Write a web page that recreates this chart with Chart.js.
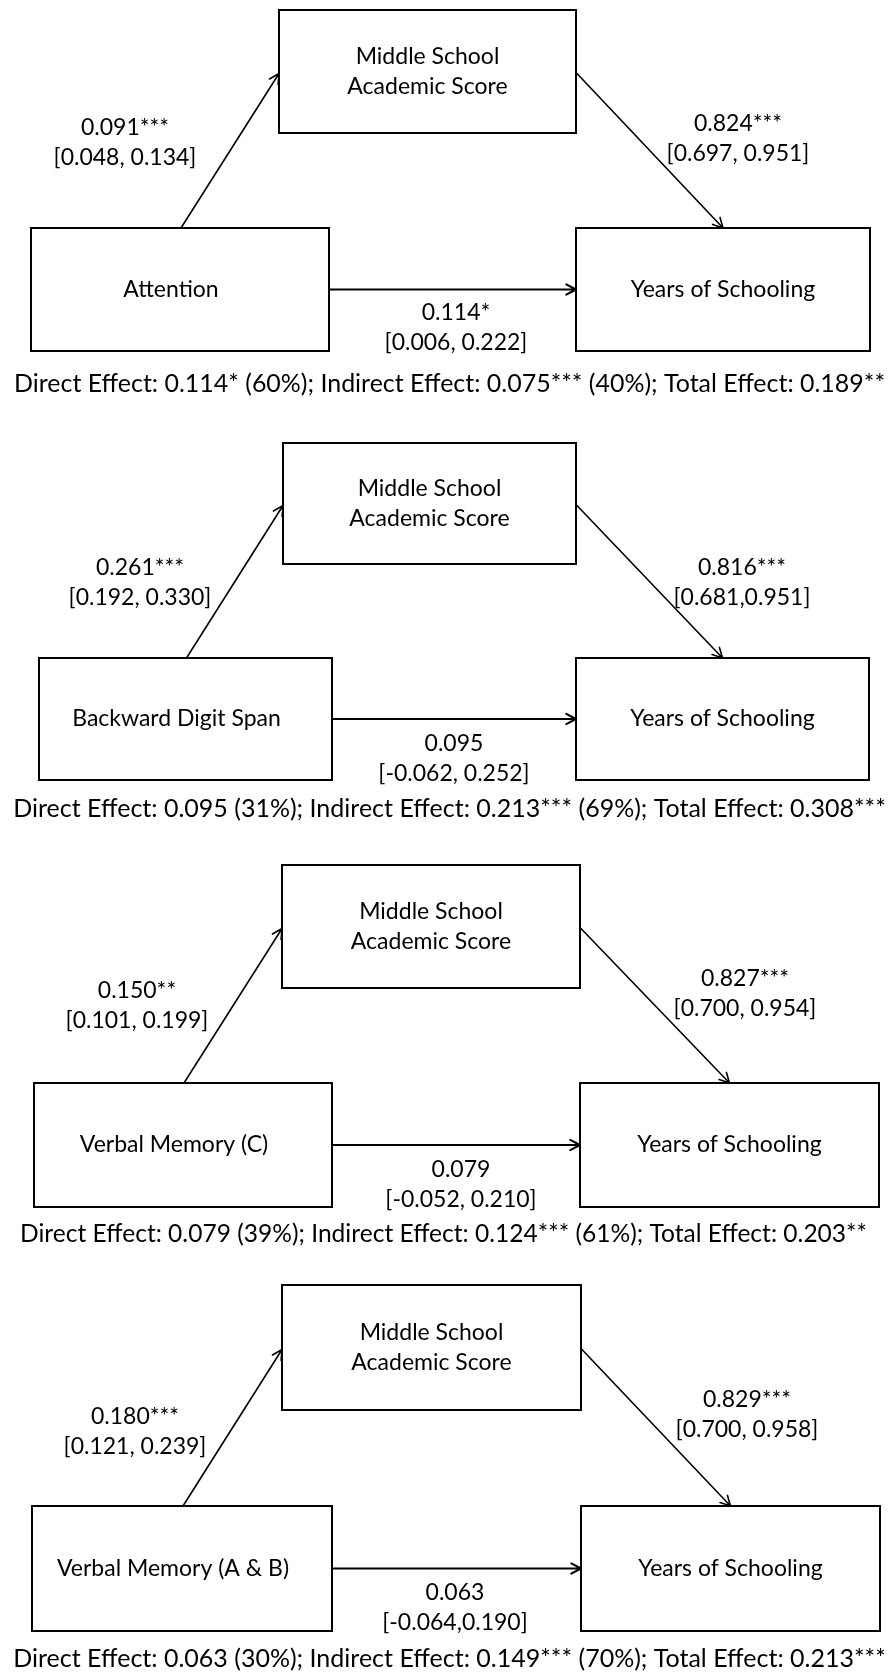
<!DOCTYPE html>
<html>
<head>
<meta charset="utf-8">
<script src="https://cdn.jsdelivr.net/npm/chart.js@4"></script>
<style>
  body { margin: 0; background: #fff; }
  #wrap { width: 889px; height: 1672px; }
</style>
</head>
<body>
<div id="wrap"><canvas id="diagram" width="889" height="1672"></canvas></div>
<script>
// values
const predictors = ['Attention', 'Backward Digit Span', 'Verbal Memory (C)', 'Verbal Memory (A & B)'];
const mediatorLines = ['Middle School', 'Academic Score'];
const outcome = 'Years of Schooling';

const pathA = [0.091, 0.261, 0.150, 0.180];
const starsA = ['***', '***', '**', '***'];
const ciA = ['[0.048, 0.134]', '[0.192, 0.330]', '[0.101, 0.199]', '[0.121, 0.239]'];

const pathB = [0.824, 0.816, 0.827, 0.829];
const starsB = ['***', '***', '***', '***'];
const ciB = ['[0.697, 0.951]', '[0.681,0.951]', '[0.700, 0.954]', '[0.700, 0.958]'];

const pathC = [0.114, 0.095, 0.079, 0.063];
const starsC = ['*', '', '', ''];
const ciC = ['[0.006, 0.222]', '[-0.062, 0.252]', '[-0.052, 0.210]', '[-0.064,0.190]'];

const directPct = [60, 31, 39, 30];
const indirect = [0.075, 0.213, 0.124, 0.149];
const starsInd = ['***', '***', '***', '***'];
const indirectPct = [40, 69, 61, 70];
const total = [0.189, 0.308, 0.203, 0.213];
const starsTot = ['**', '***', '**', '***'];

// layout of the four panels (canvas units)
const panels = [
  { top: [279, 10, 576, 133], left: [31, 228, 329, 351], right: [576, 228, 870, 351],
    a: [125, 128], b: [738, 124], c: [456, 313], cap: [449.5, 384, 871] },
  { top: [283, 443, 576, 564], left: [39, 658, 332, 780], right: [576, 658, 869, 780],
    a: [140, 568], b: [742, 568], c: [454, 744], cap: [449.5, 809, 873] },
  { top: [282, 865, 580, 988], left: [34, 1083, 332, 1207], right: [580, 1083, 879, 1207],
    a: [137, 991], b: [745, 979], c: [461, 1170], cap: [443.5, 1234, 847] },
  { top: [282, 1285, 581, 1410], left: [32, 1506, 332, 1631], right: [581, 1506, 880, 1631],
    a: [135, 1417], b: [747, 1400], c: [455, 1593], cap: [449.5, 1659, 873] }
];

const FONT = '23px Lato, "Noto Sans", sans-serif';
const CAP_FONT = '25px Lato, "Noto Sans", sans-serif';
const LINE = 30;

const fmt = (v, s) => v.toFixed(3) + s;

const diagramPlugin = {
  id: 'mediation',
  afterDraw(chart) {
    const { ctx } = chart;
    const sx = v => chart.scales.x.getPixelForValue(v);
    const sy = v => chart.scales.y.getPixelForValue(v);

    function box(r) {
      ctx.save();
      ctx.strokeStyle = '#000';
      ctx.lineWidth = 2;
      ctx.strokeRect(sx(r[0]), sy(r[1]), sx(r[2]) - sx(r[0]), sy(r[3]) - sy(r[1]));
      ctx.restore();
    }

    function arrow(x0, y0, x1, y1, w) {
      const px0 = sx(x0), py0 = sy(y0), px1 = sx(x1), py1 = sy(y1);
      const ang = Math.atan2(py1 - py0, px1 - px0);
      const head = 11, spread = Math.PI / 6.5;
      ctx.save();
      ctx.strokeStyle = '#000';
      ctx.lineWidth = w;
      ctx.lineCap = 'round';
      ctx.lineJoin = 'round';
      ctx.beginPath();
      ctx.moveTo(px0, py0);
      ctx.lineTo(px1, py1);
      ctx.moveTo(px1 - head * Math.cos(ang - spread), py1 - head * Math.sin(ang - spread));
      ctx.lineTo(px1, py1);
      ctx.lineTo(px1 - head * Math.cos(ang + spread), py1 - head * Math.sin(ang + spread));
      ctx.stroke();
      ctx.restore();
    }

    function text(str, x, y, fitW) {
      ctx.save();
      ctx.fillStyle = '#000';
      ctx.font = fitW ? CAP_FONT : FONT;
      ctx.textAlign = 'center';
      ctx.textBaseline = 'middle';
      if (fitW) {
        // the captions run across the full width; spread or squeeze to it
        const w = ctx.measureText(str).width;
        const gap = (fitW - w) / (str.length - 1);
        if ('letterSpacing' in ctx && gap > 0) {
          ctx.letterSpacing = gap.toFixed(2) + 'px';
          ctx.fillText(str, sx(x) + gap / 2, sy(y));
        } else {
          ctx.fillText(str, sx(x), sy(y), fitW);
        }
      } else {
        ctx.fillText(str, sx(x), sy(y));
      }
      ctx.restore();
    }

    panels.forEach((p, i) => {
      const t = p.top, l = p.left, r = p.right;
      box(t); box(l); box(r);

      const tMidY = (t[1] + t[3]) / 2 + 2;
      const lMidX = (l[0] + l[2]) / 2, rMidX = (r[0] + r[2]) / 2;
      const lowMidY = (l[1] + l[3]) / 2;

      arrow(lMidX + 1, l[1], t[0], tMidY, 1.6);
      arrow(t[2], tMidY - 1, rMidX, r[1], 1.6);
      arrow(l[2], lowMidY, r[0], lowMidY, 2);

      const tMidX = (t[0] + t[2]) / 2;
      text(mediatorLines[0], tMidX, tMidY - 17);
      text(mediatorLines[1], tMidX, tMidY + 13);
      text(predictors[i], lMidX - 9, lowMidY);
      text(outcome, rMidX, lowMidY);

      text(fmt(pathA[i], starsA[i]), p.a[0], p.a[1]);
      text(ciA[i], p.a[0], p.a[1] + LINE);
      text(fmt(pathB[i], starsB[i]), p.b[0], p.b[1]);
      text(ciB[i], p.b[0], p.b[1] + LINE);
      text(fmt(pathC[i], starsC[i]), p.c[0], p.c[1]);
      text(ciC[i], p.c[0], p.c[1] + LINE);

      const caption = 'Direct Effect: ' + fmt(pathC[i], starsC[i]) + ' (' + directPct[i] + '%); ' +
        'Indirect Effect: ' + fmt(indirect[i], starsInd[i]) + ' (' + indirectPct[i] + '%); ' +
        'Total Effect: ' + fmt(total[i], starsTot[i]);
      text(caption, p.cap[0], p.cap[1], p.cap[2]);
    });
  }
};

new Chart(document.getElementById('diagram'), {
  type: 'scatter',
  data: { datasets: [] },
  options: {
    responsive: false,
    animation: false,
    events: [],
    layout: { padding: 0 },
    plugins: { legend: { display: false }, tooltip: { enabled: false } },
    scales: {
      x: { type: 'linear', min: 0, max: 889, display: false },
      y: { type: 'linear', min: 0, max: 1672, reverse: true, display: false }
    }
  },
  plugins: [diagramPlugin]
});
</script>
</body>
</html>
